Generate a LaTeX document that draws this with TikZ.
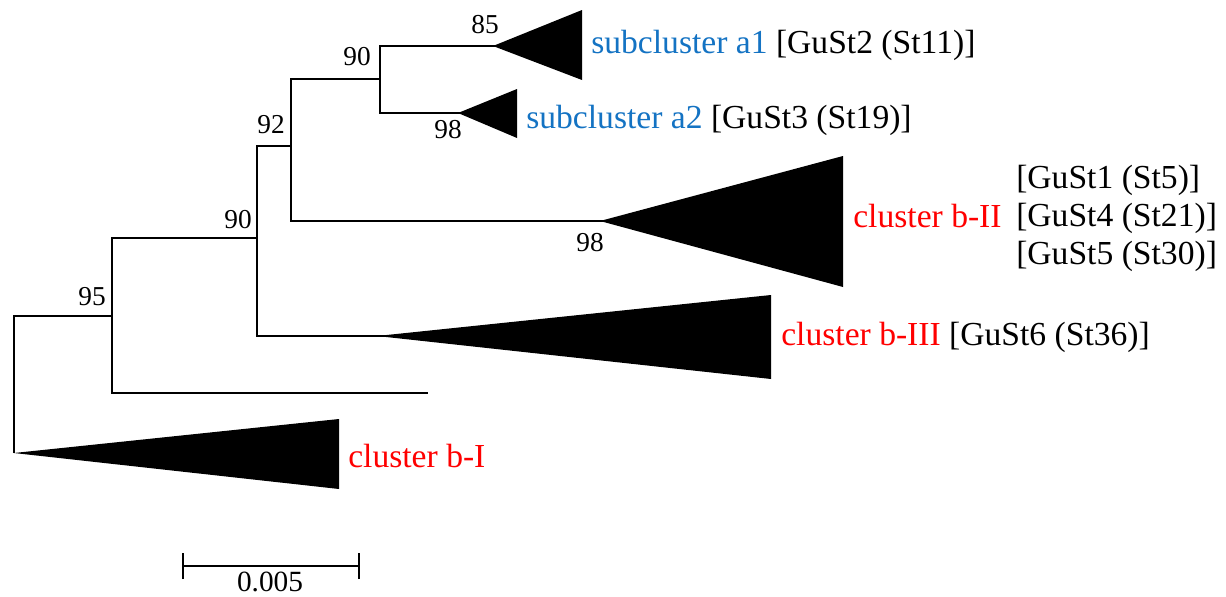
\documentclass[tikz,border=0pt]{standalone}
\usepackage{fontspec}
\setmainfont{Liberation Serif}
\definecolor{cblue}{RGB}{20,115,195}
\definecolor{cred}{RGB}{255,0,0}
\begin{document}
\begin{tikzpicture}[x=0.75pt,y=-0.75pt,
  branch/.style={line width=2.2pt, line join=miter},
  clade/.style={fill=black},
  boot/.style={font=\fontsize{20.5}{24}\selectfont, inner sep=0pt, anchor=center},
  lab/.style={font=\fontsize{25.2}{30}\selectfont, inner sep=0pt, anchor=base west},
]
\useasboundingbox (0,0) rectangle (1226,596);
% internal nodes
\coordinate (n95) at (112,316);
\coordinate (n90a) at (257,238);
\coordinate (n92) at (291,146);
\coordinate (n90b) at (380,79);
% clade apexes
\coordinate (bI) at (14,453);
\coordinate (leaf) at (428,393);
\coordinate (bIII) at (377,336);
\coordinate (bII) at (600,221);
\coordinate (a1) at (493,46);
\coordinate (a2) at (458,113);
% collapsed clades
\fill[clade] (bI) -- (339,419) -- (339,489) -- cycle;
\fill[clade] (bIII) -- (771,295) -- (771,379) -- cycle;
\fill[clade] (bII) -- (843,156) -- (843,287) -- cycle;
\fill[clade] (a1) -- (582,10) -- (582,80) -- cycle;
\fill[clade] (a2) -- (517,89) -- (517,138) -- cycle;
% branches
\draw[branch] (bI) |- (n95);
\draw[branch] (n95) |- (n90a);
\draw[branch] (n95) |- (leaf);
\draw[branch] (n90a) |- (n92);
\draw[branch] (n90a) |- ([xshift=8*0.75pt]bIII);
\draw[branch] (n92) |- (n90b);
\draw[branch] (n92) |- ([xshift=8*0.75pt]bII);
\draw[branch] (n90b) |- ([xshift=6*0.75pt]a1);
\draw[branch] (n90b) |- ([xshift=6*0.75pt]a2);
% bootstrap values
\node[boot] (s85) at (485,25) {85};
\node[boot] (s90b) at (357,57) {90};
\node[boot] (s98a) at (448,130) {98};
\node[boot] (s92) at (271,125) {92};
\node[boot] (s90a) at (238,220) {90};
\node[boot] (s95) at (92,297) {95};
\node[boot] (s98b) at (590,243) {98};
% labels
\node[lab] (la1) at (591,53) {\textcolor{cblue}{subcluster a1} [GuSt2 (St11)]};
\node[lab] (la2) at (526,128) {\textcolor{cblue}{subcluster a2} [GuSt3 (St19)]};
\node[lab,text=cred] (lbII) at (853,227) {cluster b-II};
\node[lab] (lbII1) at (1016,188) {[GuSt1 (St5)]};
\node[lab] (lbII2) at (1016,226) {[GuSt4 (St21)]};
\node[lab] (lbII3) at (1016,264) {[GuSt5 (St30)]};
\node[lab] (lbIII) at (781,345) {\textcolor{cred}{cluster b-III} [GuSt6 (St36)]};
\node[lab,text=cred] (lbI) at (348,467) {cluster b-I};
% scale bar
\coordinate (sL) at (183,566);
\coordinate (sR) at (359,566);
\draw[branch] (sL) -- (sR);
\draw[branch] ([yshift=-13*0.75pt]sL) -- ([yshift=13*0.75pt]sL);
\draw[branch] ([yshift=-13*0.75pt]sR) -- ([yshift=13*0.75pt]sR);
\node[font=\fontsize{22}{26}\selectfont, inner sep=0pt, anchor=base] (sc) at (270,591) {0.005};
\end{tikzpicture}
\end{document}
